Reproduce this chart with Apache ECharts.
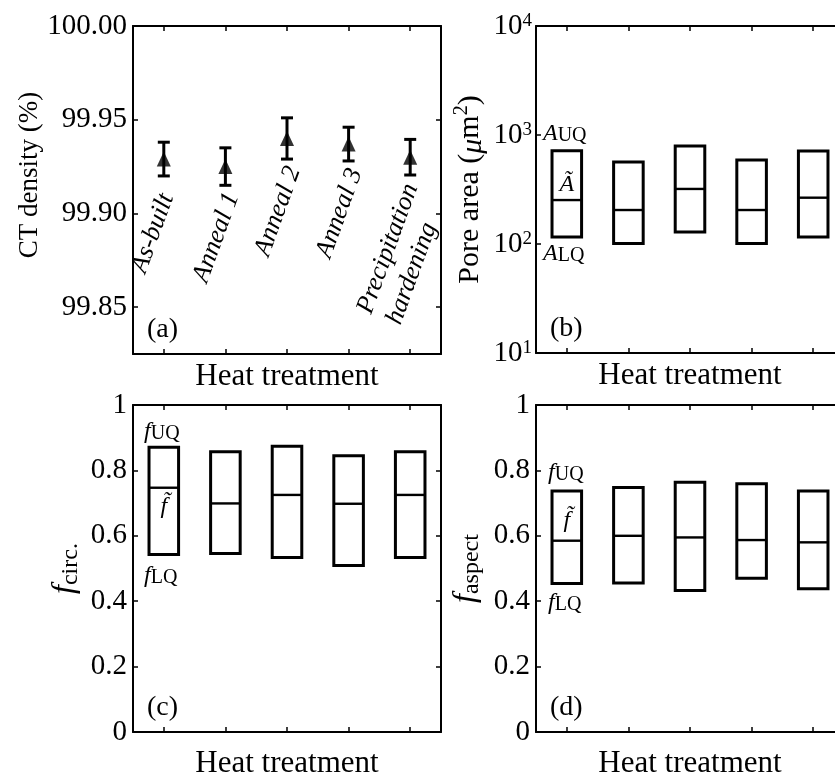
<!DOCTYPE html>
<html><head><meta charset="utf-8">
<script src="https://cdn.jsdelivr.net/npm/echarts@6/dist/echarts.min.js"></script>
<style>html,body{margin:0;padding:0;background:#fff}#c{width:835px;height:778px}</style>
</head><body><div id="c"></div>
<script>
// ---------------- data ----------------
const categories = ['As-built', 'Anneal 1', 'Anneal 2', 'Anneal 3', 'Precipitation\nhardening'];
const densityMean = [99.929, 99.925, 99.940, 99.937, 99.930];
const densityErr  = [0.009, 0.010, 0.011, 0.009, 0.0095];
const poreAreaLQ     = [116, 101, 129, 101, 116];
const poreAreaMedian = [253, 205, 320, 205, 266];
const poreAreaUQ     = [716, 565, 792, 589, 713];
const circLQ     = [0.543, 0.546, 0.534, 0.509, 0.534];
const circMedian = [0.747, 0.699, 0.725, 0.698, 0.725];
const circUQ     = [0.871, 0.857, 0.874, 0.845, 0.857];
const aspectLQ     = [0.454, 0.456, 0.433, 0.470, 0.438];
const aspectMedian = [0.585, 0.600, 0.595, 0.587, 0.580];
const aspectUQ     = [0.737, 0.748, 0.764, 0.759, 0.737];
const densityTicks = ['99.85', '99.90', '99.95', '100.00'];

// ---------------- layout / style ----------------
const SERIF = '"Liberation Serif", "Times New Roman", serif';
const BLACK = '#000';
const grids = [
  {left: 133, top: 26,  width: 308, height: 328},
  {left: 536, top: 26,  width: 308, height: 327},
  {left: 133, top: 405, width: 308, height: 327},
  {left: 536, top: 405, width: 308, height: 327}
];
const labelNudge = [[0, 0], [0, 0], [0, 0], [0, 0], [-6, 47]];

const tick = () => ({show: true, inside: true, length: 5, interval: 0, alignWithLabel: true,
  lineStyle: {color: BLACK, width: 1.5}});
const line = () => ({show: true, onZero: false, lineStyle: {color: BLACK, width: 2}});

function xAxesFor(gi, nameGap) {
  return [
    {gridIndex: gi, type: 'category', data: categories, position: 'bottom', boundaryGap: true,
     axisLine: line(), axisTick: tick(), axisLabel: {show: false, interval: 0}, splitLine: {show: false},
     name: 'Heat treatment', nameLocation: 'middle', nameGap: nameGap,
     nameTextStyle: {fontFamily: SERIF, fontSize: 31, color: BLACK}},
    {gridIndex: gi, type: 'category', data: categories, position: 'top', boundaryGap: true,
     axisLine: line(), axisTick: tick(), axisLabel: {show: false, interval: 0}, splitLine: {show: false}}
  ];
}
function yPair(gi, base, nameObj) {
  const left = Object.assign({gridIndex: gi, position: 'left', axisLine: line(),
    axisTick: {show: true, inside: true, length: 5, lineStyle: {color: BLACK, width: 1.5}},
    splitLine: {show: false}}, base, nameObj);
  const right = Object.assign({gridIndex: gi, position: 'right', axisLine: line(),
    axisTick: {show: true, inside: true, length: 5, lineStyle: {color: BLACK, width: 1.5}},
    splitLine: {show: false}}, base, {axisLabel: {show: false}});
  return [left, right];
}
const tickLabel = {fontFamily: SERIF, fontSize: 29, color: BLACK, margin: 6};

const yA = yPair(0, {type: 'value', min: 99.825, max: 100, splitNumber: 3,
  axisLabel: Object.assign({}, tickLabel, {showMinLabel: false,
    formatter: v => densityTicks.find(t => Math.abs(parseFloat(t) - v) < 1e-6) || ''})},
  {name: 'CT density (%)', nameLocation: 'middle', nameGap: 90,
   nameTextStyle: {fontFamily: SERIF, fontSize: 27, color: BLACK, padding: [0, 0, 0, 30]}});
const yB = yPair(1, {type: 'log', logBase: 10, min: 10, max: 10000,
  axisLabel: Object.assign({}, tickLabel, {margin: 4,
    formatter: v => '{b|10}{s|' + Math.round(Math.log10(v)) + '}',
    rich: {b: {fontFamily: SERIF, fontSize: 29, lineHeight: 29, verticalAlign: 'bottom', color: BLACK},
           s: {fontFamily: SERIF, fontSize: 19, lineHeight: 19, verticalAlign: 'top', color: BLACK}}})},
  {name: 'Pore area ({i|μ}m{s|2})', nameLocation: 'middle', nameGap: 48,
   nameTextStyle: {fontFamily: SERIF, fontSize: 30, color: BLACK,
     rich: {i: {fontFamily: SERIF, fontSize: 30, fontStyle: 'italic', color: BLACK, lineHeight: 36, verticalAlign: 'bottom'},
            s: {fontFamily: SERIF, fontSize: 20, color: BLACK, lineHeight: 20, verticalAlign: 'top'}}}});
function fracAxis(gi, sub, gap) {
  return yPair(gi, {type: 'value', min: 0, max: 1, interval: 0.2,
    axisLabel: Object.assign({}, tickLabel)},
    {name: '{f|f}{s|' + sub + '}', nameLocation: 'middle', nameGap: gap,
     nameTextStyle: {fontFamily: SERIF, fontSize: 30, color: BLACK,
       rich: {f: {fontFamily: SERIF, fontSize: 32, fontStyle: 'italic', color: BLACK, lineHeight: 34, verticalAlign: 'top'},
              s: {fontFamily: SERIF, fontSize: 24, color: BLACK, lineHeight: 24, verticalAlign: 'bottom'}}}});
}
const yC = fracAxis(2, 'circ.', 50);
const yD = fracAxis(3, 'aspect', 52);

// ---------------- series ----------------
const errBarSeries = {
  type: 'custom', xAxisIndex: 0, yAxisIndex: 0,
  data: densityMean.map((m, i) => [i, m - densityErr[i], m + densityErr[i]]),
  renderItem: (params, api) => {
    const lo = api.coord([api.value(0), api.value(1)]);
    const hi = api.coord([api.value(0), api.value(2)]);
    const cap = 6, st = {stroke: BLACK, lineWidth: 3};
    return {type: 'group', children: [
      {type: 'line', shape: {x1: lo[0], y1: lo[1], x2: hi[0], y2: hi[1]}, style: st},
      {type: 'line', shape: {x1: lo[0] - cap, y1: lo[1], x2: lo[0] + cap, y2: lo[1]}, style: st},
      {type: 'line', shape: {x1: hi[0] - cap, y1: hi[1], x2: hi[0] + cap, y2: hi[1]}, style: st}
    ]};
  }
};
const triSeries = {
  type: 'scatter', xAxisIndex: 0, yAxisIndex: 0, symbol: 'triangle', symbolSize: [14, 15],
  itemStyle: {color: BLACK}, data: densityMean.map((m, i) => [i, m]), z: 5
};
const catLabelSeries = {
  type: 'custom', xAxisIndex: 0, yAxisIndex: 0, silent: true,
  data: densityMean.map((m, i) => [i, m - densityErr[i]]),
  renderItem: (params, api) => {
    const i = api.value(0);
    const p = api.coord([i, api.value(1)]);
    const n = labelNudge[i];
    return {type: 'text', x: p[0] - 25 + n[0], y: p[1] + 96 + n[1], rotation: 70 * Math.PI / 180,
      style: {text: categories[i], x: 0, y: 0, align: 'left', verticalAlign: 'middle',
        font: 'italic 26px ' + SERIF, fill: BLACK, lineHeight: 31}};
  }
};
function boxSeries(gi, lq, med, uq) {
  return {
    type: 'custom', xAxisIndex: gi * 2, yAxisIndex: gi * 2,
    data: lq.map((v, i) => [i, v, med[i], uq[i]]),
    renderItem: (params, api) => {
      const i = api.value(0);
      const pl = api.coord([i, api.value(1)]);
      const pm = api.coord([i, api.value(2)]);
      const pu = api.coord([i, api.value(3)]);
      const hw = api.size([1, 0])[0] * 0.24;
      return {type: 'group', children: [
        {type: 'rect', shape: {x: pu[0] - hw, y: pu[1], width: 2 * hw, height: pl[1] - pu[1]},
         style: {fill: null, stroke: BLACK, lineWidth: 3}},
        {type: 'line', shape: {x1: pm[0] - hw, y1: pm[1], x2: pm[0] + hw, y2: pm[1]},
         style: {stroke: BLACK, lineWidth: 2.4}}
      ]};
    }
  };
}
function annotSeries(gi, sym, lq, med, uq, off) {
  const rich = {i: {fontFamily: SERIF, fontSize: 24, fontStyle: 'italic', fill: BLACK, lineHeight: 24, verticalAlign: 'top'},
                s: {fontFamily: SERIF, fontSize: 20, fill: BLACK, lineHeight: 20, verticalAlign: 'bottom'}};
  return {
    type: 'custom', xAxisIndex: gi * 2, yAxisIndex: gi * 2, silent: true,
    data: [[0, lq[0], med[0], uq[0]]],
    renderItem: (params, api) => {
      const pl = api.coord([0, api.value(1)]);
      const pm = api.coord([0, api.value(2)]);
      const pu = api.coord([0, api.value(3)]);
      const hw = api.size([1, 0])[0] * 0.24;
      const bx = pu[0] - hw;
      const mk = (t, x, y, align) => ({type: 'text', x: x, y: y,
        style: {text: t, x: 0, y: 0, align: align, verticalAlign: 'middle', rich: rich, fill: BLACK}});
      return {type: 'group', children: [
        mk('{i|' + sym + '}{s|UQ}', bx + off.dx, pu[1] + off.uq, 'left'),
        {type: 'text', x: pm[0], y: pm[1] + off.med,
         style: {text: sym + '\u0303', x: 0, y: 0, align: 'center', verticalAlign: 'middle',
           font: 'italic 24px ' + SERIF, fill: BLACK}},
        mk('{i|' + sym + '}{s|LQ}', bx + off.dx, pl[1] + off.lq, 'left')
      ]};
    }
  };
}

const panelLetters = ['(a)', '(b)', '(c)', '(d)'].map((t, k) => ({
  type: 'text', left: grids[k].left + 14, top: grids[k].top + grids[k].height - 38,
  style: {text: t, font: '28px ' + SERIF, fill: BLACK}
}));

const option = {
  backgroundColor: '#fff',
  animation: false,
  grid: grids.map(g => Object.assign({show: false, containLabel: false, outerBoundsMode: 'none'}, g)),
  xAxis: [].concat(xAxesFor(0, 7), xAxesFor(1, 7), xAxesFor(2, 16), xAxesFor(3, 16)),
  yAxis: [].concat(yA, yB, yC, yD),
  series: [
    errBarSeries, triSeries, catLabelSeries,
    boxSeries(1, poreAreaLQ, poreAreaMedian, poreAreaUQ),
    annotSeries(1, 'A', poreAreaLQ, poreAreaMedian, poreAreaUQ, {dx: -9, uq: -17, med: -15, lq: 17}),
    boxSeries(2, circLQ, circMedian, circUQ),
    annotSeries(2, 'f', circLQ, circMedian, circUQ, {dx: -5, uq: -15, med: 19, lq: 21}),
    boxSeries(3, aspectLQ, aspectMedian, aspectUQ),
    annotSeries(3, 'f', aspectLQ, aspectMedian, aspectUQ, {dx: -4, uq: -18, med: -20, lq: 19})
  ],
  graphic: panelLetters
};
const chart = echarts.init(document.getElementById('c'), null, {renderer: 'canvas', width: 835, height: 778});
chart.setOption(option);
</script></body></html>
